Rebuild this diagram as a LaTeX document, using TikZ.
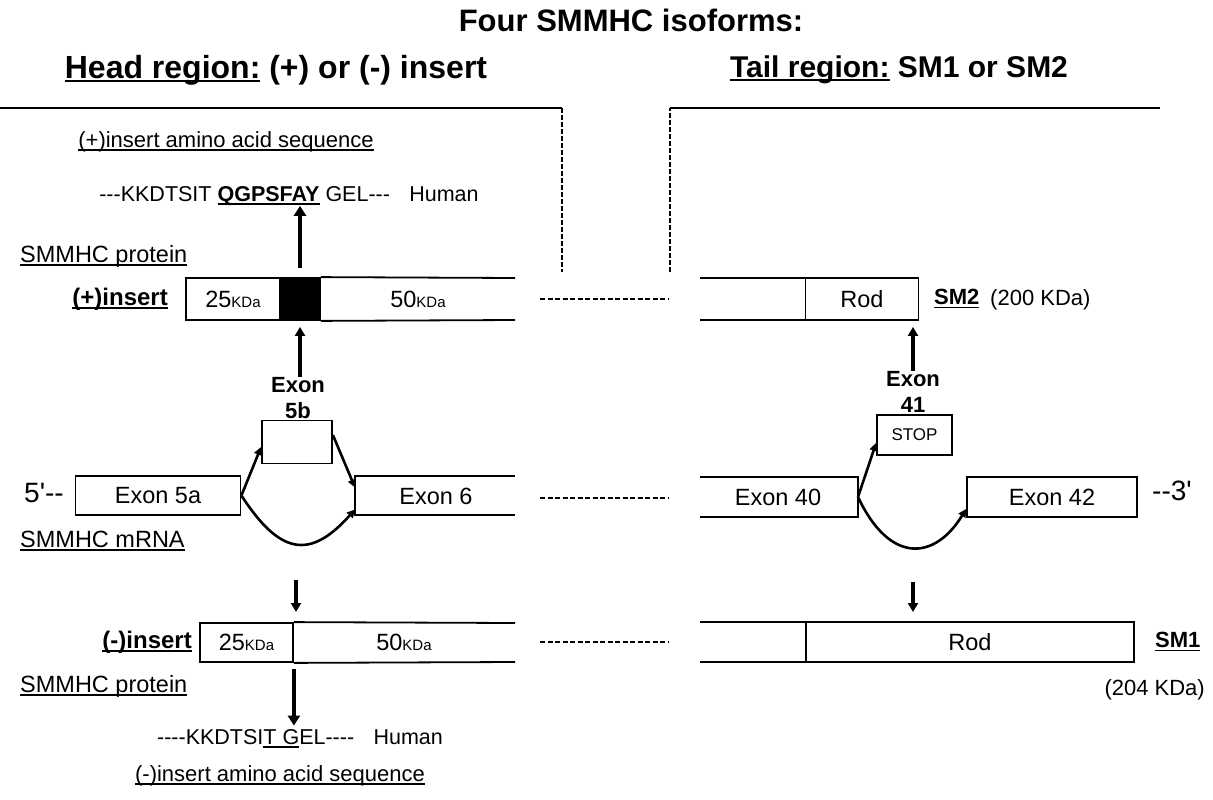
\documentclass[tikz,border=0pt]{standalone}
\usepackage{fontspec}
\setmainfont{Liberation Sans}[Ligatures=TeXOff]
\usetikzlibrary{arrows.meta}
\newcommand\myul[1]{\setbox0\hbox{#1}\rlap{\rule[-3.5pt]{\wd0}{1.8pt}}\box0\relax}
\newcommand\kda{{\fontsize{15}{17}\selectfont KDa}}
\tikzset{
  box/.style={draw, line width=1.8pt, inner sep=0pt, font=\fontsize{23.5}{27}\selectfont},
  boxtxt/.style={inner sep=0pt, font=\fontsize{23.5}{27}\selectfont},
  txt/.style={inner sep=0pt, font=\fontsize{22}{26}\selectfont},
  labtxt/.style={inner sep=0pt, font=\fontsize{23.5}{27}\selectfont},
  seqtxt/.style={inner sep=0pt, font=\fontsize{21.5}{25}\selectfont},
  boldlab/.style={inner sep=0pt, font=\bfseries\fontsize{24}{28}\selectfont},
  smlab/.style={inner sep=0pt, font=\bfseries\fontsize{22}{26}\selectfont},
  exonlab/.style={inner sep=0pt, align=center, font=\bfseries\fontsize{22}{24}\selectfont},
  bigarrow/.style={line width=4.5pt, -{Triangle[length=10pt,width=12pt]}},
  midarrow/.style={line width=3.5pt, -{Triangle[length=9pt,width=10pt]}},
  splice/.style={line width=2.6pt, -{Triangle[length=8pt,width=8pt]}},
  openline/.style={line width=1.8pt},
  gap/.style={line width=1.6pt, dash pattern=on 5pt off 2.5pt},
  bracket/.style={line width=2pt},
  brdash/.style={line width=2.5pt, dash pattern=on 5pt off 2pt}
}
\begin{document}
\begin{tikzpicture}[x=1pt,y=-1pt]
\useasboundingbox (0,0) rectangle (1213,800);
% titles
\node[inner sep=0pt, font=\bfseries\fontsize{31}{36}\selectfont] (title) at (631,20) {Four SMMHC isoforms:};
\node[inner sep=0pt, font=\bfseries\fontsize{32}{36}\selectfont] (headL) at (276,70) {\myul{Head region:} (+) or (-) insert};
\node[inner sep=0pt, font=\bfseries\fontsize{30}{34}\selectfont] (headR) at (899,70) {\myul{Tail region:} SM1 or SM2};
% brackets
\draw[bracket] (0,108) -- (562,108);
\draw[brdash] (562,108) -- (562,272);
\draw[brdash] (670,272) -- (670,108);
\draw[bracket] (670,108) -- (1160,108);

% ---------- left: (+) insert ----------
\node[txt] (plusseqlab) at (226,142) {\myul{(+)insert amino acid sequence}};
\node[seqtxt] (plusseq) at (289,196) {---KKDTSIT \myul{\bfseries QGPSFAY} GEL---\hspace{0.9em}Human};
\node[labtxt, anchor=west] (protA) at (20,256) {\myul{SMMHC protein}};
\node[boldlab, anchor=east] (pluslab) at (168,299) {\myul{(+)insert}};
\node[box, minimum width=94, minimum height=42] (p25) at (233,299) {25\kda};
\node[box, fill=black, minimum width=40, minimum height=42] (pins) at (300,299) {};
\draw[openline] (pins.north east) -- (515,278);
\draw[openline] (pins.south east) -- (515,320);
\node[boxtxt] (p50) at (418,299) {50\kda};
\draw[gap] (540,299) -- (668,299);

\draw[bigarrow] (pins.north) ++(0,-9) coordinate (pa) -- (pins.north |- plusseq.south);

\node[exonlab] (ex5blab) at (298,398) {Exon\\[2pt]5b};
\node[box, minimum width=70, minimum height=43] (ex5b) at (297,442) {};
\draw[midarrow] (pins.south |- ex5blab.north) -- ([yshift=-6pt]pins.south);

% mRNA row
\node[inner sep=0pt, font=\fontsize{28}{32}\selectfont] (five) at (44,493) {5'--};
\node[box, minimum width=165, minimum height=39] (ex5a) at (158,495.5) {Exon 5a};
\draw[openline] (515,476) -- (355,476) -- (355,515) -- (515,515);
\coordinate (ex6w) at (355,495.5);
\node[boxtxt] (ex6) at (436,496) {Exon 6};
\draw[gap] (540,498) -- (668,498);
\node[labtxt, anchor=west] (mrna) at (20,541) {\myul{SMMHC mRNA}};

\draw[splice] (ex5a.east) -- ([yshift=-5pt]ex5b.west);
\draw[splice] ([yshift=7pt]ex5b.east) -- ([yshift=8pt]ex6w);
\draw[splice] (ex5a.east) .. controls (280,555) and (310,560) .. ([yshift=-14pt]ex6w);

\draw[midarrow] (296,580) -- (296,612);

% ---------- left: (-) insert ----------
\node[boldlab, anchor=east] (minuslab) at (192,642) {\myul{(-)insert}};
\node[box, minimum width=93, minimum height=39] (m25) at (246.5,642.5) {25\kda};
\draw[openline] (m25.north east) -- (515,623);
\draw[openline] (m25.south east) -- (515,662);
\node[boxtxt] (m50) at (404,642) {50\kda};
\draw[gap] (540,642) -- (668,642);
\node[labtxt, anchor=west] (protB) at (20,686) {\myul{SMMHC protein}};
\node[seqtxt] (minusseq) at (300,739) {----KKDTSI\myul{T G}EL----\hspace{0.9em}Human};
\node[txt] (minusseqlab) at (280,776) {\myul{(-)insert amino acid sequence}};
\draw[bigarrow] ([yshift=-6pt]m25.south east) -- ([yshift=4pt]minusseq.north -| m25.east);

% ---------- right: SM2 ----------
\draw[openline] (700,278) -- (806,278);
\draw[openline] (700,320) -- (806,320);
\node[box, minimum width=113, minimum height=42] (rod2) at (862,299) {Rod};
\node[smlab, anchor=west] (sm2) at (934,299) {\myul{SM2}};
\node[txt, anchor=west] (kda2) at (990,300) {(200 KDa)};

\node[exonlab] (ex41lab) at (913,392) {Exon\\[2pt]41};
\draw[midarrow] (ex41lab.north) -- ([yshift=-6pt]rod2.south -| ex41lab.north);
\node[box, minimum width=75, minimum height=40, font=\fontsize{17}{20}\selectfont] (stop) at (914.5,435) {STOP};

\draw[openline] (700,477) -- (858,477) -- (858,517) -- (700,517);
\coordinate (ex40e) at (858,497);
\node[boxtxt] (ex40) at (778,497) {Exon 40};
\node[box, minimum width=170, minimum height=40] (ex42) at (1052,497) {Exon 42};
\node[inner sep=0pt, font=\fontsize{28}{32}\selectfont] (three) at (1172,491) {--3'};
\draw[gap] (540,498) -- (668,498);

\draw[splice] (ex40e) -- ([yshift=-8pt]stop.west);
\draw[splice] (ex40e) .. controls (890,565) and (935,560) .. ([yshift=-12pt]ex42.west);

\draw[midarrow] (913,582) -- (913,612);

% ---------- right: SM1 ----------
\draw[openline] (700,622) -- (806,622);
\draw[openline] (700,662) -- (806,662);
\node[box, minimum width=328, minimum height=40] (rod1) at (970,642) {Rod};
\node[smlab, anchor=west] (sm1) at (1155,642) {\myul{SM1}};
\node[txt, anchor=east] (kda1) at (1205,690) {(204 KDa)};
\end{tikzpicture}
\end{document}
